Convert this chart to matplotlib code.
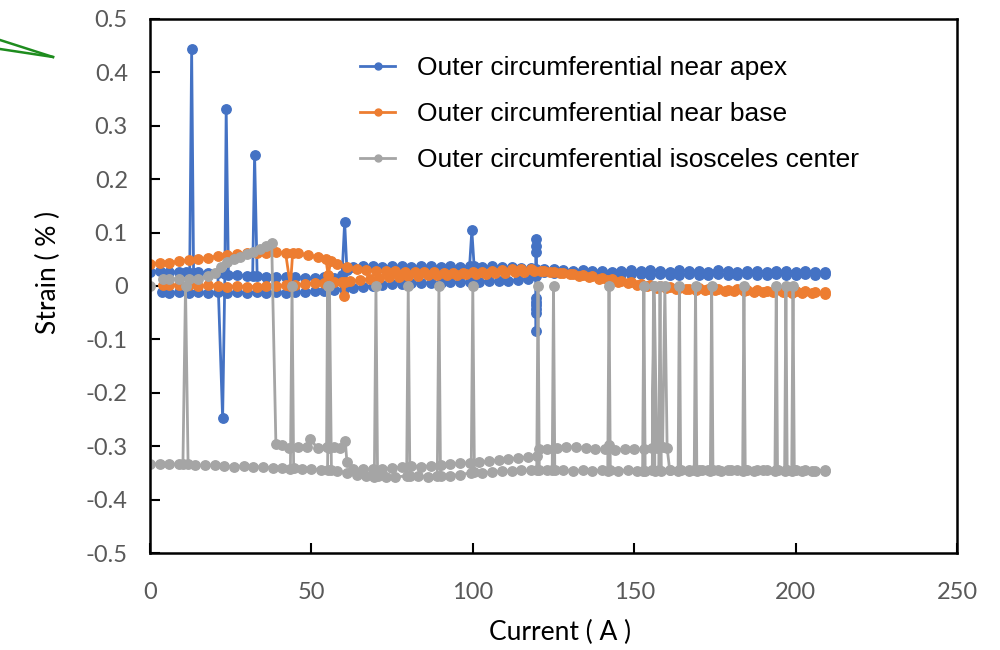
import matplotlib
matplotlib.use("Agg")
import matplotlib.pyplot as plt
from matplotlib.lines import Line2D

plt.rcParams["axes.unicode_minus"] = False

# Outer circumferential near apex: rising current branch, then falling branch
apex_up_a = [0, 3, 6, 9, 11, 12.3, 12.9, 13.5, 15, 18, 21, 22.5, 23.2, 23.6, 24.3, 27, 30, 31.8, 32.4, 33.2,
             36, 39, 42, 45, 48, 51, 54, 57, 59.5, 60.3, 61, 63, 66, 69, 72, 75, 78, 81, 84, 87, 90, 93, 96,
             99, 99.7, 100.4, 103, 106, 109, 112, 115, 118, 119.6, 119.6, 119.6, 119.6, 119.6, 122, 125, 128,
             131, 134, 137, 140, 143, 146, 149, 152, 155, 158, 161, 164, 167, 170, 173, 176, 179, 182, 185,
             188, 191, 194, 197, 200, 203, 206, 209]
apex_up_s = [0.027, 0.028, 0.026, 0.027, 0.026, 0.025, 0.443, 0.024, 0.026, 0.025, 0.024, -0.248, 0.022, 0.332,
             0.021, 0.020, 0.019, 0.018, 0.246, 0.018, 0.017, 0.016, 0.017, 0.016, 0.015, 0.015, 0.016, 0.015,
             0.020, 0.120, 0.030, 0.036, 0.037, 0.038, 0.036, 0.037, 0.038, 0.036, 0.037, 0.038, 0.036, 0.037,
             0.036, 0.037, 0.104, 0.038, 0.036, 0.037, 0.036, 0.035, 0.034, 0.033, 0.032, 0.088, 0.075, 0.064,
             0.030, 0.032, 0.031, 0.030, 0.029, 0.030, 0.028, 0.029, 0.027, 0.028, 0.030, 0.028, 0.030, 0.029,
             0.027, 0.030, 0.028, 0.029, 0.027, 0.030, 0.028, 0.027, 0.029, 0.028, 0.027, 0.029, 0.028, 0.027,
             0.028, 0.027, 0.026]
apex_dn_a = [209, 206, 203, 200, 197, 194, 191, 188, 185, 182, 179, 176, 173, 170, 167, 164, 161, 158, 155, 152,
             149, 146, 143, 140, 137, 134, 131, 128, 125, 122, 119.6, 119.6, 119.6, 119.6, 119.6, 119.6, 119.6,
             119.6, 117, 114, 111, 108, 105, 102, 99, 96, 93, 90, 87, 84, 81, 78, 75, 72, 69, 66, 63, 60, 57,
             54, 51, 48, 45, 42, 39, 36, 33, 30, 27, 24, 21, 18, 15, 12, 9, 6, 3.7]
apex_dn_s = [0.022, 0.021, 0.022, 0.020, 0.021, 0.022, 0.020, 0.021, 0.022, 0.020, 0.021, 0.022, 0.020, 0.021,
             0.022, 0.021, 0.020, 0.022, 0.021, 0.022, 0.023, 0.022, 0.024, 0.025, 0.024, 0.026, 0.025, 0.026,
             0.025, 0.026, 0.024, -0.022, -0.030, -0.036, -0.043, -0.050, -0.085, 0.018, 0.013, 0.011, 0.010,
             0.009, 0.009, 0.008, 0.008, 0.007, 0.007, 0.006, 0.006, 0.005, 0.005, 0.004, 0.003, 0.002, 0.000,
             -0.002, -0.004, -0.006, -0.008, -0.009, -0.010, -0.011, -0.012, -0.013, -0.012, -0.013, -0.012,
             -0.013, -0.012, -0.013, -0.012, -0.013, -0.012, -0.013, -0.012, -0.013, -0.012]

# Outer circumferential near base
base_up_a = [0, 3, 6, 9, 12, 15, 18, 21, 24, 27, 30, 33, 36, 39, 42, 43.5, 44.2, 46, 49, 52, 54.5, 55.2, 56, 58,
             61, 64, 67, 70, 73, 76, 79, 82, 85, 88, 91, 94, 97, 100, 103, 106, 109, 112, 115, 118, 121, 124,
             127, 130, 133, 136, 139, 142, 145, 148, 151, 154, 157, 160, 163, 166, 169, 172, 175, 178, 181, 184,
             187, 190, 193, 196, 199, 202, 205, 209]
base_up_s = [0.042, 0.043, 0.044, 0.046, 0.048, 0.051, 0.053, 0.056, 0.058, 0.060, 0.061, 0.062, 0.062, 0.063,
             0.062, 0.000, 0.062, 0.061, 0.058, 0.054, 0.050, 0.020, 0.047, 0.042, 0.036, 0.032, 0.030, 0.029,
             0.028, 0.028, 0.027, 0.027, 0.026, 0.026, 0.025, 0.025, 0.025, 0.026, 0.026, 0.028, 0.030, 0.031,
             0.031, 0.031, 0.029, 0.027, 0.025, 0.022, 0.019, 0.016, 0.013, 0.011, 0.008, 0.005, 0.002, 0.000,
             -0.003, -0.004, -0.005, -0.006, -0.007, -0.008, -0.008, -0.009, -0.010, -0.010, -0.011, -0.011,
             -0.012, -0.012, -0.013, -0.013, -0.014, -0.015]
base_dn_a = [209, 206, 203, 200, 197, 194, 191, 188, 185, 182, 179, 176, 173, 170, 167, 164, 161, 158, 155, 152,
             149, 146, 143, 140, 137, 134, 131, 128, 125, 122, 119, 116, 113, 110, 107, 104, 101, 98, 95, 92, 89,
             86, 83, 80, 77, 74, 71, 68, 65, 62, 60.5, 60, 59.5, 57, 54, 51, 48, 45, 42, 39, 36, 33, 30, 27, 24,
             21, 18, 15, 12, 9, 6, 4]
base_dn_s = [-0.012, -0.011, -0.010, -0.009, -0.010, -0.008, -0.009, -0.007, -0.008, -0.006, -0.007, -0.005,
             -0.006, -0.004, -0.005, -0.003, -0.002, 0.000, 0.002, 0.004, 0.007, 0.010, 0.013, 0.015, 0.018,
             0.021, 0.023, 0.025, 0.027, 0.028, 0.028, 0.027, 0.026, 0.025, 0.024, 0.023, 0.022, 0.022, 0.021,
             0.021, 0.020, 0.020, 0.019, 0.018, 0.017, 0.016, 0.015, 0.013, 0.011, 0.009, 0.008, -0.018, 0.008,
             0.007, 0.006, 0.006, 0.004, 0.002, 0.001, 0.000, 0.000, -0.001, -0.001, 0.000, -0.001, 0.000, 0.001,
             0.000, 0.001, 0.002, 0.001, 0.002]

# Outer circumferential isosceles center (zero readings are sensor dropouts)
center_up_a = [0, 0.1, 3, 6, 9, 10.2, 11, 11.8, 14, 17, 20, 23, 26, 29, 32, 35, 38, 41, 43.5, 44, 44.5, 47, 50,
               53, 55, 55.6, 56.2, 58, 61, 64, 67, 69.5, 70, 70.5, 73, 76, 79.5, 80, 80.5, 83, 86, 89, 89.5, 90,
               93, 96, 99.5, 100, 100.5, 103, 106, 109, 112, 115, 118, 119.8, 120.2, 120.6, 123, 124.6, 125,
               125.4, 128, 131, 134, 137, 140, 141.8, 142.2, 142.6, 145, 148, 151, 152.6, 153, 153.4, 155.6, 156,
               156.4, 157.6, 158, 158.4, 161, 163.6, 164, 164.4, 167, 168.6, 169, 169.4, 171, 173.6, 174, 174.4,
               177, 180, 183.6, 184, 184.4, 187, 190, 193.6, 194, 194.4, 196.6, 197, 197.4, 198.8, 199.2, 199.6,
               202, 205, 209]
center_up_s = [0.0, -0.333, -0.333, -0.334, -0.333, -0.334, 0.0, -0.334, -0.335, -0.336, -0.335, -0.337, -0.338,
               -0.337, -0.338, -0.339, -0.340, -0.341, -0.342, 0.0, -0.341, -0.342, -0.343, -0.344, -0.345, 0.0,
               -0.344, -0.346, -0.350, -0.354, -0.356, -0.357, 0.0, -0.356, -0.358, -0.357, -0.356, 0.0, -0.355,
               -0.356, -0.357, -0.356, 0.0, -0.355, -0.355, -0.353, -0.350, 0.0, -0.349, -0.350, -0.348, -0.347,
               -0.346, -0.345, -0.345, -0.345, 0.0, -0.344, -0.345, -0.345, 0.0, -0.344, -0.345, -0.346, -0.345,
               -0.346, -0.345, -0.346, 0.0, -0.345, -0.346, -0.345, -0.346, -0.346, 0.0, -0.346, -0.345, 0.0,
               -0.346, -0.345, 0.0, -0.346, -0.345, -0.346, 0.0, -0.345, -0.346, -0.345, 0.0, -0.346, -0.345,
               -0.346, 0.0, -0.345, -0.346, -0.345, -0.346, 0.0, -0.345, -0.346, -0.345, -0.346, 0.0, -0.345,
               -0.346, 0.0, -0.345, -0.346, 0.0, -0.345, -0.346, -0.347, -0.347]
center_dn_a = [209, 206, 203, 200, 197, 194, 191, 188, 185, 182, 179, 176, 173, 170, 167, 164, 161, 160.2, 159.5,
               158.8, 157, 156.2, 155.6, 153, 150, 147, 144, 142.2, 141, 138, 135, 132, 129, 126, 123, 120.5, 120,
               117, 114, 111, 108, 105, 102, 99, 96, 93, 90, 87, 84, 81, 78, 75, 72, 69, 66, 63, 61, 60.5, 59, 57,
               55.3, 55, 54.7, 52, 49.5, 48.5, 46, 43, 41, 39, 37.7, 36, 34, 32, 30, 28, 26, 24, 22, 20, 18, 15,
               12, 9, 6, 4]
center_dn_s = [-0.345, -0.346, -0.345, -0.344, -0.345, -0.344, -0.345, -0.344, -0.345, -0.344, -0.345, -0.344,
               -0.345, -0.344, -0.345, -0.344, -0.345, -0.303, 0.0, -0.302, -0.304, 0.0, -0.303, -0.305, -0.306,
               -0.305, -0.307, -0.298, -0.306, -0.305, -0.303, -0.301, -0.302, -0.304, -0.305, -0.306, -0.318,
               -0.320, -0.322, -0.324, -0.326, -0.328, -0.330, -0.331, -0.332, -0.334, -0.335, -0.337, -0.338,
               -0.337, -0.339, -0.341, -0.342, -0.343, -0.342, -0.343, -0.330, -0.290, -0.303, -0.302, -0.303,
               0.0, -0.302, -0.304, -0.286, -0.301, -0.302, -0.303, -0.298, -0.295, 0.080, 0.074, 0.069, 0.064,
               0.060, 0.055, 0.050, 0.045, 0.035, 0.024, 0.018, 0.014, 0.013, 0.014, 0.013, 0.013]

series_names = ["Outer circumferential near apex",
                "Outer circumferential near base",
                "Outer circumferential isosceles center"]
series_colors = ["#4472C4", "#ED7D31", "#A5A5A5"]

x_ticks = [0, 50, 100, 150, 200, 250]
y_ticks = [0.5, 0.4, 0.3, 0.2, 0.1, 0, -0.1, -0.2, -0.3, -0.4, -0.5]

fig = plt.figure(figsize=(10, 6.5), dpi=100)
ax = fig.add_axes([0.150, 0.1492, 0.807, 0.8216])

series = [
    (apex_up_a + apex_dn_a, apex_up_s + apex_dn_s),
    (base_up_a + base_dn_a, base_up_s + base_dn_s),
    (center_up_a + center_dn_a, center_up_s + center_dn_s),
]
for (cur, strain), name, col in zip(series, series_names, series_colors):
    ax.plot(cur, strain, color=col, lw=2.0, marker="o", ms=6.8, mec=col, mfc=col, label=name)

ax.set_xlim(0, 250)
ax.set_ylim(-0.5, 0.5)
ax.set_xticks(x_ticks)
ax.set_yticks(y_ticks)
ax.set_xticklabels([f"{v:g}" for v in x_ticks])
ax.set_yticklabels([f"{v:g}" for v in y_ticks])
ax.tick_params(direction="in", length=7, width=1.5, colors="black", labelcolor="#595959",
               labelsize=17)
ax.tick_params(axis="x", pad=21)
ax.tick_params(axis="y", pad=16)
for lab in ax.get_xticklabels() + ax.get_yticklabels():
    lab.set_family("Lato")
for sp in ax.spines.values():
    sp.set_linewidth(1.8)

ax.set_xlabel("Current ( A )", fontsize=19, family="Lato", labelpad=12)
ax.set_ylabel("Strain ( % )", fontsize=19, family="Lato", labelpad=18)
ax.xaxis.label.set_x(0.508)
ax.yaxis.label.set_y(0.526)

handles = [Line2D([0], [0], color=c, lw=2.0, marker="o", ms=5) for c in series_colors]
ax.legend(handles, series_names, loc="upper left", bbox_to_anchor=(0.36, 0.9138),
          bbox_transform=fig.transFigure, frameon=False, borderpad=0, borderaxespad=0,
          handlelength=1.33, handletextpad=0.83, labelspacing=0.84,
          prop={"family": "Liberation Sans", "size": 19})

# small green arrow stub at the upper left corner
fig.add_artist(Line2D([0, 0.053], [1 - 40 / 650, 1 - 57 / 650], color="#1E8C1E", lw=1.8))
fig.add_artist(Line2D([0, 0.053], [1 - 49 / 650, 1 - 57 / 650], color="#1E8C1E", lw=1.8))

fig.savefig("out.png", dpi=100)
